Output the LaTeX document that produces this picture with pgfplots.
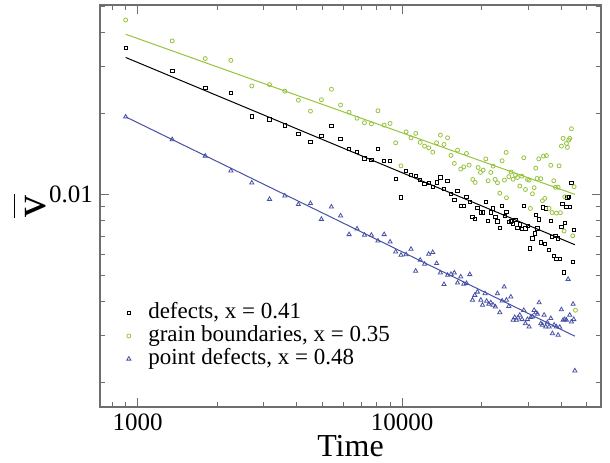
\documentclass[border=0pt]{standalone}
\usepackage{pgfplots}
\pgfplotsset{compat=1.18}
\usepackage{fontspec}
\setmainfont{Liberation Serif}
\definecolor{gbgreen}{RGB}{150,195,60}
\definecolor{pdblue}{RGB}{70,80,165}
\definecolor{framegray}{RGB}{110,110,110}
\begin{document}
\begin{tikzpicture}
\useasboundingbox (0,0) rectangle (305pt,231pt);
\begin{axis}[
  at={(50pt,27.5pt)}, anchor=south west,
  scale only axis, width=250.5pt, height=201pt,
  xmode=log, ymode=log,
  xmin=720, xmax=56500, ymin=0.00162, ymax=0.0506,
  xtick={1000,10000}, xticklabels={1000,10000},
  minor xtick={800,900,2000,3000,4000,5000,6000,7000,8000,9000,20000,30000,40000,50000},
  ytick={0.01}, yticklabels={0.01},
  minor ytick={0.002,0.003,0.004,0.005,0.006,0.007,0.008,0.009,0.02,0.03,0.04,0.05},
  tick align=inside,
  major tick length=4.5pt, minor tick length=2.3pt,
  axis line style={framegray, line width=0.6pt},
  every tick/.style={framegray, line width=0.5pt},
  ticklabel style={font=\fontsize{12.5}{12.5}\selectfont},
  xlabel={Time},
  every axis x label/.style={at={(axis description cs:0.5,0)}, anchor=base, yshift=-24.5pt, font=\fontsize{16}{16}\selectfont},
  ylabel={\fontsize{22}{22}\selectfont$\overline{\mbox{\kern0.6pt v\kern0.6pt}\rule{0pt}{14pt}}$},
  every axis y label/.style={at={(axis description cs:-0.14,0.5)}, rotate=90, anchor=center},
  legend style={at={(axis description cs:0.044,0.09)}, anchor=south west, draw=none, fill=none,
    font=\fontsize{11.5}{11.5}\selectfont, inner sep=0pt, row sep=0pt,
    nodes={inner sep=0.5pt, text height=8pt, text depth=2.5pt}},
  legend cell align=left,
  legend image code/.code={\draw[#1, only marks] plot coordinates {(3pt,0pt)}; \path (0pt,0pt) (12pt,0pt);},
]
\addplot[only marks, mark=square, mark size=0.85pt, black, line width=0.4pt] coordinates {
(900,0.0351)(1350,0.0288)(1800,0.0249)(2250,0.0239)(2700,0.0195)(3150,0.0190)(3600,0.01805)
(4050,0.0168)(4500,0.0157)(4950,0.0165)(5400,0.0180)(5850,0.0161)(6300,0.0148)(6750,0.0144)
(7200,0.01361)(7650,0.01345)(8100,0.01474)(8550,0.01333)(9000,0.01333)(9450,0.01143)(9900,0.00975)
(10350,0.01221)(10800,0.0118)(11250,0.0117)(11700,0.0113)(12150,0.01092)(12600,0.01104)(13050,0.01067)
(13500,0.01108)(13950,0.01157)(14400,0.01046)(14850,0.01124)(15300,0.01003)(15750,0.00952)(16200,0.01031)
(16650,0.00907)(17100,0.00907)
(17510,0.00980)(18020,0.00936)(18450,0.00826)(18880,0.00809)(19260,0.00892)(19840,0.00857)(20250,0.00857)
(20720,0.00936)(21140,0.00798)(21640,0.00857)(22080,0.00887)(22530,0.00826)(22930,0.00795)(23400,0.00751)
(23880,0.00905)(24430,0.00830)(24800,0.00859)(25310,0.00791)(25760,0.00795)(26280,0.00775)(26820,0.00802)
(27290,0.00749)(27850,0.00773)(28420,0.00745)(28840,0.00905)(29260,0.00747)(29950,0.00762)(30470,0.00630)
(31100,0.00686)(31730,0.00716)(32010,0.00838)(32480,0.00747)(32960,0.00807)(33440,0.00663)(34120,0.00895)
(34620,0.00653)(34920,0.00887)(35950,0.00621)(36480,0.00798)(36900,0.00696)(37440,0.00590)(37990,0.00700)
(38320,0.00576)(38880,0.00686)(39450,0.00576)(40020,0.00758)(40370,0.00920)(40960,0.00513)(41200,0.00784)
(41800,0.00900)(42170,0.00974)(42660,0.00980)(43030,0.00900)(43660,0.01105)(44170,0.00562)(44690,0.00737)
};
\addlegendentry{defects, x = 0.41}
\addplot[only marks, mark=o, mark size=1pt, gbgreen, line width=0.4pt] coordinates {
(900,0.0445)(1350,0.0372)(1800,0.0320)(2250,0.0315)(2700,0.0253)(3150,0.0256)(3600,0.0242)
(4050,0.0224)(4500,0.0204)(4950,0.0225)(5400,0.0246)(5850,0.0215)(6300,0.0202)(6750,0.0192)
(7200,0.01846)(7650,0.0183)(8100,0.02046)(8550,0.0181)(9000,0.01836)(9450,0.01555)(9900,0.01277)
(10350,0.01709)(10800,0.01623)(11250,0.01686)(11700,0.01561)(12150,0.01512)(12600,0.0149)(13050,0.01436)
(13500,0.01555)(13950,0.01661)(14400,0.01534)(14850,0.01623)(15300,0.01396)(15750,0.01304)(16200,0.01461)
(16650,0.01242)(17100,0.01266)
(17510,0.01420)(17920,0.01285)(18500,0.01136)(18880,0.01108)(19380,0.01259)(19780,0.01207)(20250,0.01231)
(20720,0.01355)(21140,0.01124)(21640,0.01207)(22080,0.01274)(22470,0.01136)(22930,0.01105)(23400,0.01010)
(23880,0.01334)(24370,0.01130)(24730,0.01432)(24800,0.00972)(25310,0.01164)(25830,0.01212)(26280,0.01139)
(26820,0.01179)(27290,0.01156)(27850,0.01074)(28340,0.01169)(28840,0.01368)(29260,0.01043)(29780,0.01136)
(30210,0.01130)(30560,0.00887)(31100,0.01005)(31550,0.01059)(32010,0.01252)(32380,0.01146)(32860,0.01355)
(33440,0.01144)(33920,0.00947)(34220,0.01388)(34620,0.00966)(35130,0.01394)(35950,0.00887)(36480,0.01283)
(36900,0.00856)(37440,0.01124)(37990,0.01063)(38320,0.00852)(38880,0.01063)(39220,0.01277)(39680,0.00855)
(40020,0.01512)(40610,0.01615)(40960,0.00731)(41200,0.00980)(41800,0.01547)(42170,0.01495)(42660,0.01592)
(43030,0.01615)(43660,0.01754)(44170,0.00702)(44690,0.01068)(45210,0.00371)
};
\addlegendentry{grain boundaries, x = 0.35}
\addplot[only marks, mark=triangle, mark size=1.2pt, pdblue, line width=0.4pt] coordinates {
(900,0.01943)(1350,0.0160)(1800,0.0139)(2250,0.01224)(2700,0.01104)(3150,0.0096)(3600,0.00988)
(4050,0.00918)(4500,0.00926)(4950,0.00809)(5400,0.00899)(5850,0.00833)(6300,0.0071)(6750,0.00745)
(7200,0.00706)(7650,0.00706)(8100,0.00672)(8550,0.0071)(9000,0.00666)(9450,0.00612)(9900,0.00595)
(10350,0.00598)(10800,0.00626)(11250,0.00519)(11700,0.0057)(12150,0.00551)(12600,0.006)(13050,0.00609)
(13500,0.00554)(13950,0.00511)(14400,0.00463)(14850,0.00501)(15300,0.00505)(15750,0.00511)(16200,0.00469)
(16650,0.00494)(17100,0.00464)
(17510,0.00467)(18020,0.00504)(18450,0.00405)(18820,0.00422)(19260,0.00434)(19840,0.00405)(20130,0.00388)
(20580,0.00428)(20860,0.00401)(21270,0.00391)(21640,0.00396)(22080,0.00388)(22530,0.00382)(22930,0.00428)
(23400,0.00364)(23880,0.00402)(24310,0.00453)(24800,0.00405)(25310,0.00384)(25760,0.00416)(26280,0.00341)
(26660,0.00349)(27060,0.00341)(27440,0.00348)(27850,0.00356)(28420,0.00343)(28840,0.00371)(29260,0.00331)
(29780,0.00343)(30210,0.00322)(30650,0.00349)(31100,0.00351)(31550,0.00371)(32010,0.00364)(32480,0.00359)
(32960,0.00396)(33440,0.00331)(33920,0.00327)(34420,0.00356)(34920,0.00322)(35430,0.00334)(35950,0.00322)
(36480,0.00346)(37000,0.00304)(37560,0.00327)(38320,0.00322)(38880,0.00300)(39450,0.00321)(40020,0.00373)
(40610,0.00341)(41200,0.00343)(41800,0.00341)(42420,0.00484)(43030,0.00356)(43660,0.00336)(44300,0.00391)
(44560,0.00343)(45000,0.00221)
};
\addlegendentry{point defects, x = 0.48}
\addplot[forget plot, black, line width=0.5pt] coordinates {(900,0.0323)(45000,0.00650)};
\addplot[forget plot, gbgreen, line width=0.5pt] coordinates {(900,0.0394)(45000,0.0100)};
\addplot[forget plot, pdblue, line width=0.5pt] coordinates {(900,0.01943)(45000,0.00297)};
\end{axis}
\end{tikzpicture}
\end{document}
